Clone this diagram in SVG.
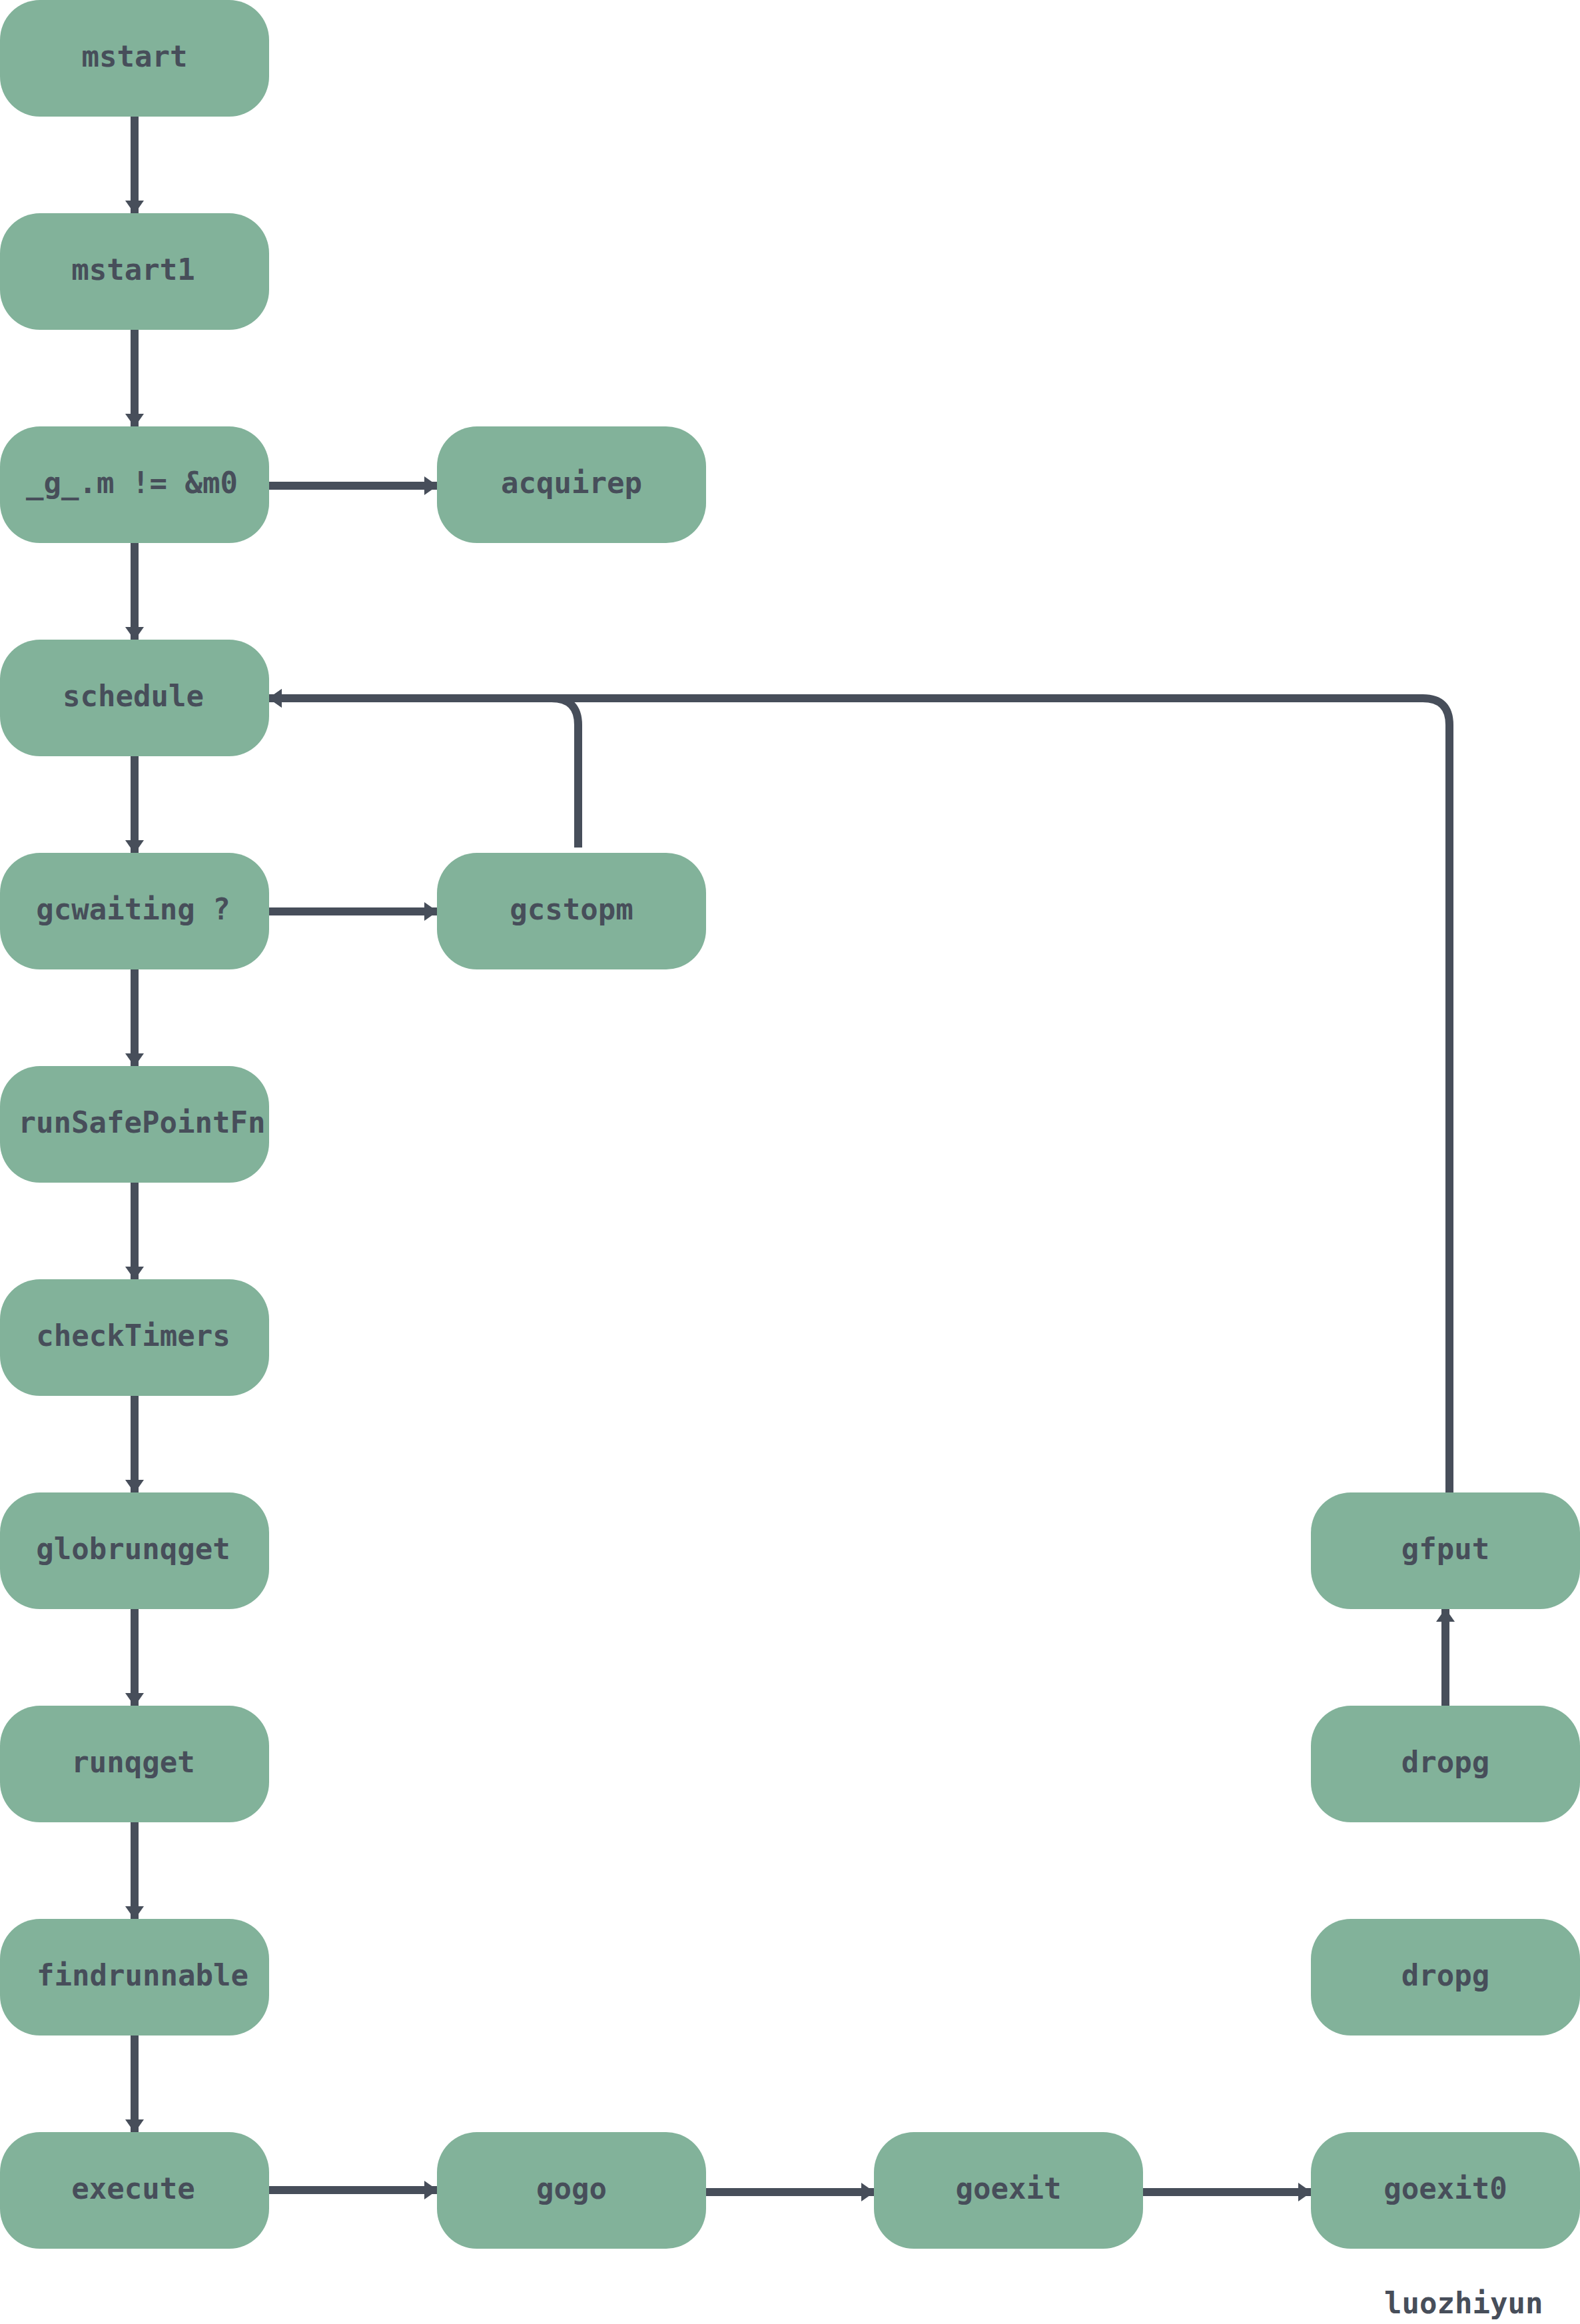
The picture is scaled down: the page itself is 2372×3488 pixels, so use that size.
<svg xmlns="http://www.w3.org/2000/svg" width="2372" height="3488" viewBox="0 0 2372 3488">
<style>
.node rect{fill:#82b29a;}
.node text{font-family:"DejaVu Sans Mono","Liberation Mono",monospace;font-weight:bold;font-size:44px;fill:#474e5a;text-anchor:middle;}
.conn path{fill:none;stroke:#474e5a;stroke-width:12;}
.sig{font-family:"DejaVu Sans Mono","Liberation Mono",monospace;font-weight:bold;font-size:44px;fill:#474e5a;}
</style>
<defs>
<marker id="arr" viewBox="0 0 20 28" refX="19" refY="14" markerWidth="20" markerHeight="28" markerUnits="userSpaceOnUse" orient="auto">
<path d="M0,0 L20,14 L0,28 Z" fill="#474e5a"/>
</marker>
</defs>
<rect width="2372" height="3488" fill="#ffffff"/>
<g class="conn" id="connectors">
<path d="M202,170 V320" marker-end="url(#arr)"/>
<path d="M202,490 V640" marker-end="url(#arr)"/>
<path d="M202,810 V960" marker-end="url(#arr)"/>
<path d="M202,1130 V1280" marker-end="url(#arr)"/>
<path d="M202,1450 V1600" marker-end="url(#arr)"/>
<path d="M202,1770 V1920" marker-end="url(#arr)"/>
<path d="M202,2090 V2240" marker-end="url(#arr)"/>
<path d="M202,2410 V2560" marker-end="url(#arr)"/>
<path d="M202,2730 V2880" marker-end="url(#arr)"/>
<path d="M202,3050 V3200" marker-end="url(#arr)"/>
<path d="M398,729 H656" marker-end="url(#arr)"/>
<path d="M398,1368 H656" marker-end="url(#arr)"/>
<path d="M398,3287 H656" marker-end="url(#arr)"/>
<path d="M1056,3290 H1312" marker-end="url(#arr)"/>
<path d="M1712,3290 H1968" marker-end="url(#arr)"/>
<path d="M2170,2565 V2415" marker-end="url(#arr)"/>
<path d="M868,1272 V1088 Q868,1048 828,1048 H404" marker-end="url(#arr)"/>
<path d="M2176,2240 V1088 Q2176,1048 2136,1048 H404" marker-end="url(#arr)"/>
</g>
<g class="node" id="n-mstart"><rect x="0" y="0" width="404" height="175" rx="60"/><text x="202" y="100">mstart</text></g>
<g class="node" id="n-mstart1"><rect x="0" y="320" width="404" height="175" rx="60"/><text x="200" y="420">mstart1</text></g>
<g class="node" id="n-gm"><rect x="0" y="640" width="404" height="175" rx="60"/><text x="198" y="740">_g_.m != &amp;m0</text></g>
<g class="node" id="n-acquirep"><rect x="656" y="640" width="404" height="175" rx="60"/><text x="858" y="740">acquirep</text></g>
<g class="node" id="n-schedule"><rect x="0" y="960" width="404" height="175" rx="60"/><text x="200" y="1060">schedule</text></g>
<g class="node" id="n-gcwaiting"><rect x="0" y="1280" width="404" height="175" rx="60"/><text x="200" y="1380">gcwaiting ?</text></g>
<g class="node" id="n-gcstopm"><rect x="656" y="1280" width="404" height="175" rx="60"/><text x="858" y="1380">gcstopm</text></g>
<g class="node" id="n-runSafePointFn"><rect x="0" y="1600" width="404" height="175" rx="60"/><text x="213" y="1700">runSafePointFn</text></g>
<g class="node" id="n-checkTimers"><rect x="0" y="1920" width="404" height="175" rx="60"/><text x="200" y="2020">checkTimers</text></g>
<g class="node" id="n-globrunqget"><rect x="0" y="2240" width="404" height="175" rx="60"/><text x="200" y="2340">globrunqget</text></g>
<g class="node" id="n-runqget"><rect x="0" y="2560" width="404" height="175" rx="60"/><text x="200" y="2660">runqget</text></g>
<g class="node" id="n-findrunnable"><rect x="0" y="2880" width="404" height="175" rx="60"/><text x="214" y="2980">findrunnable</text></g>
<g class="node" id="n-execute"><rect x="0" y="3200" width="404" height="175" rx="60"/><text x="200" y="3300">execute</text></g>
<g class="node" id="n-gogo"><rect x="656" y="3200" width="404" height="175" rx="60"/><text x="858" y="3300">gogo</text></g>
<g class="node" id="n-goexit"><rect x="1312" y="3200" width="404" height="175" rx="60"/><text x="1514" y="3300">goexit</text></g>
<g class="node" id="n-goexit0"><rect x="1968" y="3200" width="404" height="175" rx="60"/><text x="2170" y="3300">goexit0</text></g>
<g class="node" id="n-gfput"><rect x="1968" y="2240" width="404" height="175" rx="60"/><text x="2170" y="2340">gfput</text></g>
<g class="node" id="n-dropg1"><rect x="1968" y="2560" width="404" height="175" rx="60"/><text x="2170" y="2660">dropg</text></g>
<g class="node" id="n-dropg2"><rect x="1968" y="2880" width="404" height="175" rx="60"/><text x="2170" y="2980">dropg</text></g>
<text class="sig" x="2078" y="3472">luozhiyun</text>
</svg>
